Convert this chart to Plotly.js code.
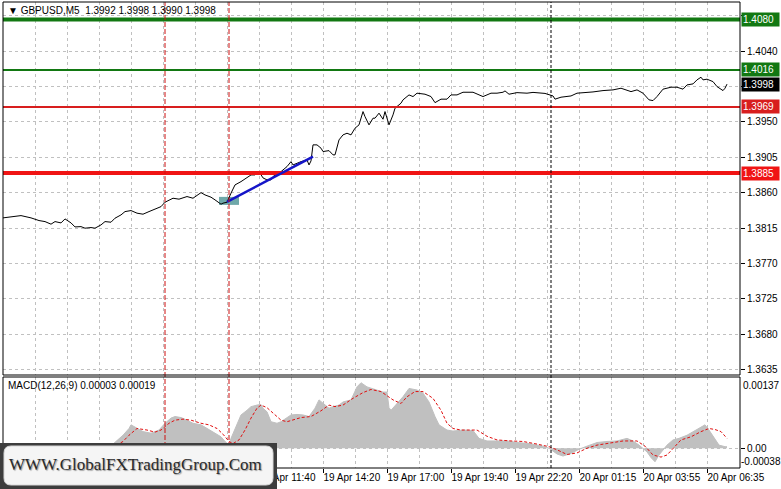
<!DOCTYPE html>
<html><head><meta charset="utf-8">
<script src="https://cdn.plot.ly/plotly-3.0.1.min.js"></script>
<style>html,body{margin:0;padding:0;background:#fff;} #chart{width:781px;height:489px;}</style>
</head><body><div id="chart"></div>
<script>
// ---------- DATA ----------
const priceBars = [0,4,9,14,18,21,24,26,29,31,34,36,39,41,44,46,49,51,54,56,59,61,64,67,70,73,76,79,81,85,88,92,95,99,101,104,106,109,110,112,114,116,119,121,124,126,128,130,132,134,135,139,142,144,145,149,152,153,154,155,157,159,160,163,165,166,168,170,172,174,176,178,180,181,183,185,186,188,190,191,193,195,196,199,200,203,205,207,209,211,214,216,219,222,224,227,230,235,240,244,247,250,251,253,257,262,265,271,275,276,279,284,287,292,295,300,305,309,314,317,320,323,325,327,330,334,337,340,342,345,347,349,350,352,355,357,360,361,362];
const priceValues = [1.38280,1.38293,1.38309,1.38280,1.38246,1.38233,1.38200,1.38233,1.38216,1.38267,1.38216,1.38165,1.38169,1.38149,1.38157,1.38149,1.38191,1.38233,1.38225,1.38276,1.38318,1.38360,1.38373,1.38340,1.38327,1.38360,1.38390,1.38423,1.38479,1.38530,1.38518,1.38551,1.38530,1.38601,1.38572,1.38543,1.38509,1.38454,1.38467,1.38479,1.38594,1.38699,1.38741,1.38772,1.38826,1.38826,1.38868,1.38788,1.38763,1.38763,1.38805,1.38868,1.38932,1.38995,1.38953,1.38995,1.39017,1.38953,1.39004,1.39208,1.39208,1.39166,1.39123,1.39135,1.39081,1.39081,1.39271,1.39335,1.39356,1.39335,1.39420,1.39462,1.39631,1.39567,1.39462,1.39547,1.39547,1.39611,1.39534,1.39631,1.39462,1.39589,1.39674,1.39738,1.39780,1.39843,1.39822,1.39865,1.39856,1.39852,1.39822,1.39745,1.39789,1.39789,1.39843,1.39843,1.39877,1.39877,1.39822,1.39865,1.39865,1.39877,1.39894,1.39852,1.39872,1.39865,1.39875,1.39862,1.39830,1.39789,1.39814,1.39830,1.39865,1.39872,1.39881,1.39898,1.39907,1.39928,1.39885,1.39907,1.39865,1.39780,1.39771,1.39822,1.39916,1.39941,1.39941,1.39916,1.39970,1.39983,1.40034,1.40068,1.40034,1.40043,1.40012,1.39949,1.39898,1.39928,1.39980];

const macdBars = [0,15,30,45,52,55,60,63,64,67,70,74,78,81,84,86,89,92,95,99,102,105,109,111,113,114,117,119,122,124,127,129,130,132,134,137,139,142,144,147,150,153,156,158,160,163,165,168,170,174,177,179,182,187,190,192,193,194,197,200,203,207,210,213,216,218,222,225,230,235,238,242,247,252,257,263,270,273,277,280,284,288,292,297,302,307,312,315,318,322,324,326,328,332,335,338,342,345,348,351,353,356,358,361,362];
const macdValues = [-0.00005,-0.00008,-0.00010,-0.00009,0.00002,0.00008,0.00025,0.00038,0.00045,0.00038,0.00032,0.00029,0.00035,0.00048,0.00058,0.00061,0.00059,0.00054,0.00048,0.00045,0.00038,0.00032,0.00022,0.00013,0.00006,0.00019,0.00045,0.00064,0.00073,0.00080,0.00083,0.00084,0.00077,0.00070,0.00051,0.00048,0.00051,0.00058,0.00064,0.00065,0.00064,0.00061,0.00077,0.00093,0.00086,0.00077,0.00080,0.00083,0.00089,0.00093,0.00118,0.00126,0.00118,0.00112,0.00108,0.00108,0.00078,0.00073,0.00086,0.00099,0.00115,0.00112,0.00106,0.00089,0.00061,0.00045,0.00035,0.00033,0.00035,0.00034,0.00019,0.00014,0.00014,0.00014,0.00011,0.00009,0.00004,0.00000,-0.00011,-0.00015,-0.00010,-0.00002,0.00004,0.00011,0.00013,0.00014,0.00019,0.00014,0.00006,-0.00007,-0.00018,-0.00026,-0.00013,0.00006,0.00016,0.00019,0.00025,0.00032,0.00038,0.00045,0.00035,0.00019,0.00006,0.00003,0.00003];

const signalBars = [0,20,40,52,60,63,67,72,76,79,83,86,90,94,99,103,107,110,113,115,118,121,124,127,129,132,135,139,142,145,149,154,159,163,166,170,175,180,184,189,193,195,199,202,206,210,215,219,222,225,229,234,237,242,247,254,260,267,273,277,282,287,292,297,304,310,317,321,325,329,332,335,339,344,349,353,356,359,361,362];
const signalValues = [-0.00006,-0.00008,-0.00010,-0.00005,0.00013,0.00025,0.00038,0.00035,0.00031,0.00035,0.00048,0.00054,0.00056,0.00054,0.00048,0.00045,0.00038,0.00027,0.00013,0.00009,0.00016,0.00035,0.00058,0.00077,0.00083,0.00078,0.00067,0.00054,0.00051,0.00054,0.00059,0.00061,0.00072,0.00083,0.00080,0.00083,0.00096,0.00107,0.00113,0.00109,0.00099,0.00093,0.00086,0.00099,0.00109,0.00109,0.00096,0.00073,0.00048,0.00038,0.00035,0.00035,0.00035,0.00023,0.00016,0.00014,0.00013,0.00008,0.00003,-0.00003,-0.00012,-0.00009,0.00000,0.00006,0.00011,0.00014,0.00014,0.00004,-0.00013,-0.00017,-0.00013,0.00000,0.00016,0.00022,0.00032,0.00038,0.00036,0.00032,0.00023,0.00019];

const levelPrices = [1.4080, 1.4016, 1.3969, 1.3885];
const levelColors = ['#127812', '#127812', '#d81e1e', '#f01414'];
const levelWidths = [4, 2, 2, 4];
const lastPrice = 1.3998;

const redMarkerBars = [81, 113];
const blackMarkerBars = [274];
const trendBars = [112, 155];
const trendPrices = [1.38483, 1.39059];
const zoneBars = [108, 118];
const zonePrices = [1.38445, 1.38547];

const timeTickBars = [128, 160, 192, 224, 256, 288, 320, 352];
const timeTickLabels = ['19 Apr 11:40','19 Apr 14:20','19 Apr 17:00','19 Apr 19:40','19 Apr 22:20','20 Apr 01:15','20 Apr 03:55','20 Apr 06:35'];
const priceTicks = [1.3635,1.3680,1.3725,1.3770,1.3815,1.3860,1.3905,1.3950,1.3995,1.4040,1.4085];
const priceTickLabels = ['1.3635','1.3680','1.3725','1.3770','1.3815','1.3860','1.3905','1.3950','','1.4040',''];
const macdMax = 0.00137, macdMin = -0.00038;
const headerText = '\u25BC GBPUSD,M5  1.3992 1.3998 1.3990 1.3998';
const macdText = 'MACD(12,26,9) 0.00003 0.00019';
const watermarkText = 'WWW.GlobalFXTradingGroup.Com';

// ---------- LAYOUT HELPERS ----------
const W = 781, H = 489, L = 3, R = 41, T = 2, B = 21;
const pw = W - L - R, ph = H - T - B;
const px = x => (x - L) / pw;
const py = y => (H - B - y) / ph;
const mainDom = [py(375), 1];
const macdDom = [0, py(377)];
const FONT = '"Liberation Sans", Arial, sans-serif';
const grid = '#c0c0c0';
const gdash = '3px,3px';

function roundRect(x0, y0, x1, y1, r) {
  const X0 = px(x0), X1 = px(x1), Y0 = py(y0), Y1 = py(y1);
  const rx = r / pw, ry = r / ph;
  return `M${X0+rx},${Y0} L${X1-rx},${Y0} Q${X1},${Y0} ${X1},${Y0-ry} L${X1},${Y1+ry} Q${X1},${Y1} ${X1-rx},${Y1} L${X0+rx},${Y1} Q${X0},${Y1} ${X0},${Y1+ry} L${X0},${Y0-ry} Q${X0},${Y0} ${X0+rx},${Y0} Z`;
}

const traces = [
  {x: macdBars, y: macdValues, yaxis: 'y2', type: 'scatter', mode: 'lines',
   line: {color: '#c0c0c0', width: 1}, fill: 'tozeroy', fillcolor: '#c0c0c0', hoverinfo: 'skip'},
  {x: signalBars, y: signalValues, yaxis: 'y2', type: 'scatter', mode: 'lines',
   line: {color: '#e01010', width: 1, dash: '3px,2px'}, hoverinfo: 'skip'},
  {x: priceBars, y: priceValues, yaxis: 'y', type: 'scatter', mode: 'lines',
   line: {color: '#000000', width: 1}, hoverinfo: 'skip'}
];

const shapes = [];
shapes.push({type: 'rect', xref: 'x', yref: 'y', x0: zoneBars[0], x1: zoneBars[1], y0: zonePrices[0], y1: zonePrices[1],
  fillcolor: '#5f9ea0', opacity: 0.9, line: {width: 0}, layer: 'between'});
levelPrices.forEach((p, i) => shapes.push({type: 'line', xref: 'x domain', yref: 'y', x0: 0, x1: 1, y0: p, y1: p,
  line: {color: levelColors[i], width: levelWidths[i]}, layer: 'above'}));
shapes.push({type: 'line', xref: 'x', yref: 'y', x0: trendBars[0], x1: trendBars[1], y0: trendPrices[0], y1: trendPrices[1],
  line: {color: '#1515c8', width: 2.5}, layer: 'above'});
redMarkerBars.forEach(b => shapes.push({type: 'line', xref: 'x', yref: 'paper', x0: b, x1: b, y0: 0, y1: 1,
  line: {color: '#cc1111', width: 1, dash: '5px,2px'}, layer: 'above'}));
blackMarkerBars.forEach(b => shapes.push({type: 'line', xref: 'x', yref: 'paper', x0: b, x1: b, y0: 0, y1: 1,
  line: {color: '#000000', width: 1, dash: '3px,2px'}, layer: 'above'}));
shapes.push({type: 'rect', xref: 'paper', yref: 'y domain', x0: 0, x1: 1, y0: 0, y1: 1, line: {color: '#000', width: 1}, fillcolor: 'rgba(0,0,0,0)', layer: 'above'});
shapes.push({type: 'rect', xref: 'paper', yref: 'y2 domain', x0: 0, x1: 1, y0: 0, y1: 1, line: {color: '#000', width: 1}, fillcolor: 'rgba(0,0,0,0)', layer: 'above'});
shapes.push({type: 'rect', xref: 'paper', yref: 'paper', x0: px(0), x1: px(277), y0: py(489), y1: py(443),
  fillcolor: '#3d3d3d', line: {width: 0}, layer: 'above'});
shapes.push({type: 'path', xref: 'paper', yref: 'paper', path: roundRect(4, 446, 273, 485, 7),
  fillcolor: '#f5f5f5', line: {color: '#d8d8d8', width: 1}, layer: 'above'});

const annotations = [];
function priceLabel(p, bg) {
  annotations.push({xref: 'paper', x: 1, xanchor: 'left', xshift: 1, yref: 'y', y: p, yanchor: 'middle',
    text: p.toFixed(4), showarrow: false, bgcolor: bg, font: {family: FONT, size: 10, color: '#ffffff'},
    width: 35, height: 11, borderpad: 1, align: 'left'});
}
levelPrices.forEach((p, i) => priceLabel(p, levelColors[i]));
priceLabel(lastPrice, '#000000');
annotations.push({xref: 'paper', yref: 'paper', x: px(6), y: py(11), xanchor: 'left', yanchor: 'middle',
  text: headerText, showarrow: false, font: {family: FONT, size: 10, color: '#000'}});
annotations.push({xref: 'paper', yref: 'paper', x: px(6), y: py(385), xanchor: 'left', yanchor: 'middle',
  text: macdText, showarrow: false, font: {family: FONT, size: 10, color: '#000'}});
annotations.push({xref: 'paper', yref: 'paper', x: 1, xshift: 1, y: py(385), xanchor: 'left', yanchor: 'middle',
  text: macdMax.toFixed(5), showarrow: false, font: {family: FONT, size: 10, color: '#000'}});
annotations.push({xref: 'paper', yref: 'paper', x: 1, xshift: -1, y: py(461), xanchor: 'left', yanchor: 'middle',
  text: macdMin.toFixed(5), showarrow: false, font: {family: FONT, size: 10, color: '#000'}});
annotations.push({xref: 'paper', yref: 'paper', x: px(135), y: py(464), xanchor: 'center', yanchor: 'middle',
  text: watermarkText, showarrow: false,
  font: {family: '"Liberation Serif", "DejaVu Serif", serif', size: 17, color: '#2a2a2a', shadow: '1px 1px 1px #9a9a9a'}});

const layout = {
  width: W, height: H, margin: {l: L, r: R, t: T, b: B, pad: 0},
  paper_bgcolor: '#ffffff', plot_bgcolor: '#ffffff', showlegend: false,
  xaxis: {domain: [0, 1], range: [0, 368.5], anchor: 'y2', tickmode: 'array', tickvals: timeTickBars, ticktext: timeTickLabels,
    ticks: 'outside', ticklen: 4, tickcolor: '#000', ticklabelposition: 'outside right', tickangle: 0,
    tickfont: {family: FONT, size: 10, color: '#000'}, showline: false, zeroline: false,
    showgrid: true, gridcolor: grid, griddash: gdash, gridwidth: 1,
    minor: {tickmode: 'linear', tick0: 0, dtick: 16, showgrid: true, gridcolor: grid, griddash: gdash, ticks: ''}},
  yaxis: {domain: mainDom, range: [1.36283, 1.41024], side: 'right', anchor: 'x', tickmode: 'array',
    tickvals: priceTicks, ticktext: priceTickLabels, ticks: 'outside', ticklen: 4, tickcolor: '#000',
    tickfont: {family: FONT, size: 10, color: '#000'}, showgrid: true, gridcolor: grid, griddash: gdash,
    zeroline: false, showline: false},
  yaxis2: {domain: macdDom, range: [macdMin, macdMax], side: 'right', anchor: 'x', tickmode: 'array',
    tickvals: [0], ticktext: ['0.00'], ticks: 'outside', ticklen: 4, tickcolor: '#000',
    tickfont: {family: FONT, size: 10, color: '#000'}, showgrid: true, gridcolor: grid, griddash: gdash,
    zeroline: false, showline: false},
  shapes: shapes, annotations: annotations
};

Plotly.newPlot('chart', traces, layout, {staticPlot: true, displayModeBar: false});
</script></body></html>
